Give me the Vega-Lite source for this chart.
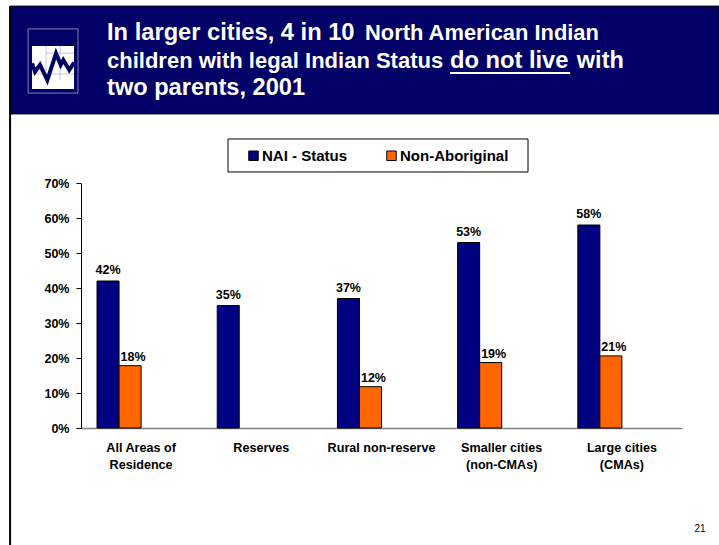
{
"$schema":"https://vega.github.io/schema/vega-lite/v6.json",
"width":601,"height":245,
"autosize":{"type":"none"},
"padding":{"left":81,"top":183,"right":37,"bottom":117},
"background":"white",
"config":{"view":{"stroke":null},"font":"Liberation Sans"},
"layer":[
{"data":{"values":[{"slide":"21"}]},
"layer":[
{"mark":{"type":"rect","fill":"#000066","stroke":"#000000","strokeWidth":1},
"encoding":{"x":{"datum":-0.118,"type":"quantitative","scale":{"domain":[0,1],"nice":false,"zero":false},"axis":null},"x2":{"datum":1.0616},"y":{"datum":1.722,"type":"quantitative","scale":{"domain":[0,1],"nice":false,"zero":false},"axis":null},"y2":{"datum":1.282}}},
{"mark":{"type":"rect","fill":"#ffffff","stroke":"#000000","strokeWidth":1},
"encoding":{"x":{"datum":0.2446,"type":"quantitative","scale":{"domain":[0,1],"nice":false,"zero":false},"axis":null},"x2":{"datum":0.7438},"y":{"datum":1.1796,"type":"quantitative","scale":{"domain":[0,1],"nice":false,"zero":false},"axis":null},"y2":{"datum":1.0449}}},
{"mark":{"type":"rule","stroke":"#000000","strokeWidth":2},
"encoding":{"x":{"datum":-0.118,"type":"quantitative","scale":{"domain":[0,1],"nice":false,"zero":false},"axis":null},"y":{"datum":1.722,"type":"quantitative","scale":{"domain":[0,1],"nice":false,"zero":false},"axis":null},"y2":{"datum":-0.478}}},
{"mark":{"type":"rect","fill":"#000066","stroke":"#8080b0","strokeWidth":1},
"encoding":{"x":{"datum":-0.088,"type":"quantitative","scale":{"domain":[0,1],"nice":false,"zero":false},"axis":null},"x2":{"datum":-0.005},"y":{"datum":1.629,"type":"quantitative","scale":{"domain":[0,1],"nice":false,"zero":false},"axis":null},"y2":{"datum":1.367}}},
{"mark":{"type":"rect","fill":"#ffffff"},
"encoding":{"x":{"datum":-0.0815,"type":"quantitative","scale":{"domain":[0,1],"nice":false,"zero":false},"axis":null},"x2":{"datum":-0.0116},"y":{"datum":1.559,"type":"quantitative","scale":{"domain":[0,1],"nice":false,"zero":false},"axis":null},"y2":{"datum":1.384}}},
{"mark":{"type":"rule","stroke":"#c4c4e0","strokeWidth":1},
"encoding":{"x":{"datum":-0.0582,"type":"quantitative","scale":{"domain":[0,1],"nice":false,"zero":false},"axis":null},"y":{"datum":1.559,"type":"quantitative","scale":{"domain":[0,1],"nice":false,"zero":false},"axis":null},"y2":{"datum":1.42}}},
{"mark":{"type":"rule","stroke":"#c4c4e0","strokeWidth":1},
"encoding":{"x":{"datum":-0.0349,"type":"quantitative","scale":{"domain":[0,1],"nice":false,"zero":false},"axis":null},"y":{"datum":1.559,"type":"quantitative","scale":{"domain":[0,1],"nice":false,"zero":false},"axis":null},"y2":{"datum":1.42}}},
{"mark":{"type":"rule","stroke":"#c4c4e0","strokeWidth":1},
"encoding":{"x":{"datum":-0.0582,"type":"quantitative","scale":{"domain":[0,1],"nice":false,"zero":false},"axis":null},"x2":{"datum":-0.0116},"y":{"datum":1.53,"type":"quantitative","scale":{"domain":[0,1],"nice":false,"zero":false},"axis":null}}},
{"mark":{"type":"rule","stroke":"#c4c4e0","strokeWidth":1},
"encoding":{"x":{"datum":-0.0815,"type":"quantitative","scale":{"domain":[0,1],"nice":false,"zero":false},"axis":null},"x2":{"datum":-0.0116},"y":{"datum":1.445,"type":"quantitative","scale":{"domain":[0,1],"nice":false,"zero":false},"axis":null}}},
{"data":{"values":[{"u":-0.0815,"v":1.488},{"u":-0.0765,"v":1.454},{"u":-0.0682,"v":1.482},{"u":-0.056,"v":1.42},{"u":-0.0416,"v":1.529},{"u":-0.0338,"v":1.482},{"u":-0.0294,"v":1.502},{"u":-0.0195,"v":1.461},{"u":-0.0116,"v":1.491}]},
"mark":{"type":"line","color":"#000066","strokeWidth":4},
"encoding":{"x":{"field":"u","type":"quantitative","scale":{"domain":[0,1],"nice":false,"zero":false},"axis":null},"y":{"field":"v","type":"quantitative","scale":{"domain":[0,1],"nice":false,"zero":false},"axis":null},"order":{"field":"u"}}},
{"data":{"values":[{"t":"In larger cities, 4 in 10"}]},"mark":{"type":"text","align":"left","baseline":"middle","font":"Liberation Sans","fontWeight":"bold","fontSize":23.7,"color":"#ffffff"},
"encoding":{"text":{"field":"t"},"x":{"datum":0.0433,"type":"quantitative","scale":{"domain":[0,1],"nice":false,"zero":false},"axis":null},"y":{"datum":1.613,"type":"quantitative","scale":{"domain":[0,1],"nice":false,"zero":false},"axis":null}}},
{"data":{"values":[{"t":"North American Indian"}]},"mark":{"type":"text","align":"left","baseline":"middle","font":"Liberation Sans","fontWeight":"bold","fontSize":21.9,"color":"#ffffff"},
"encoding":{"text":{"field":"t"},"x":{"datum":0.4725,"type":"quantitative","scale":{"domain":[0,1],"nice":false,"zero":false},"axis":null},"y":{"datum":1.613,"type":"quantitative","scale":{"domain":[0,1],"nice":false,"zero":false},"axis":null}}},
{"data":{"values":[{"t":"children with legal Indian Status"}]},"mark":{"type":"text","align":"left","baseline":"middle","font":"Liberation Sans","fontWeight":"bold","fontSize":22,"color":"#ffffff"},
"encoding":{"text":{"field":"t"},"x":{"datum":0.0433,"type":"quantitative","scale":{"domain":[0,1],"nice":false,"zero":false},"axis":null},"y":{"datum":1.498,"type":"quantitative","scale":{"domain":[0,1],"nice":false,"zero":false},"axis":null}}},
{"data":{"values":[{"t":"do not live"}]},"mark":{"type":"text","align":"left","baseline":"middle","font":"Liberation Sans","fontWeight":"bold","fontSize":23.7,"color":"#ffffff"},
"encoding":{"text":{"field":"t"},"x":{"datum":0.614,"type":"quantitative","scale":{"domain":[0,1],"nice":false,"zero":false},"axis":null},"y":{"datum":1.498,"type":"quantitative","scale":{"domain":[0,1],"nice":false,"zero":false},"axis":null}}},
{"mark":{"type":"rule","stroke":"#ffffff","strokeWidth":2},
"encoding":{"x":{"datum":0.614,"type":"quantitative","scale":{"domain":[0,1],"nice":false,"zero":false},"axis":null},"x2":{"datum":0.814},"y":{"datum":1.449,"type":"quantitative","scale":{"domain":[0,1],"nice":false,"zero":false},"axis":null}}},
{"data":{"values":[{"t":"with"}]},"mark":{"type":"text","align":"left","baseline":"middle","font":"Liberation Sans","fontWeight":"bold","fontSize":23.5,"color":"#ffffff"},
"encoding":{"text":{"field":"t"},"x":{"datum":0.825,"type":"quantitative","scale":{"domain":[0,1],"nice":false,"zero":false},"axis":null},"y":{"datum":1.498,"type":"quantitative","scale":{"domain":[0,1],"nice":false,"zero":false},"axis":null}}},
{"data":{"values":[{"t":"two parents, 2001"}]},"mark":{"type":"text","align":"left","baseline":"middle","font":"Liberation Sans","fontWeight":"bold","fontSize":23.6,"color":"#ffffff"},
"encoding":{"text":{"field":"t"},"x":{"datum":0.0433,"type":"quantitative","scale":{"domain":[0,1],"nice":false,"zero":false},"axis":null},"y":{"datum":1.388,"type":"quantitative","scale":{"domain":[0,1],"nice":false,"zero":false},"axis":null}}},
{"mark":{"type":"text","align":"center","baseline":"middle","font":"Liberation Sans","fontSize":10,"color":"#000000"},
"encoding":{"text":{"field":"slide"},"x":{"datum":1.03,"type":"quantitative","scale":{"domain":[0,1],"nice":false,"zero":false},"axis":null},"y":{"datum":-0.412,"type":"quantitative","scale":{"domain":[0,1],"nice":false,"zero":false},"axis":null}}}
]},
{"data":{"values":[
{"area":"All Areas of|Residence","series":"NAI - Status","share":0.42},
{"area":"All Areas of|Residence","series":"Non-Aboriginal","share":0.178},
{"area":"Reserves","series":"NAI - Status","share":0.35},
{"area":"Rural non-reserve","series":"NAI - Status","share":0.37},
{"area":"Rural non-reserve","series":"Non-Aboriginal","share":0.118},
{"area":"Smaller cities|(non-CMAs)","series":"NAI - Status","share":0.53},
{"area":"Smaller cities|(non-CMAs)","series":"Non-Aboriginal","share":0.187},
{"area":"Large cities|(CMAs)","series":"NAI - Status","share":0.58},
{"area":"Large cities|(CMAs)","series":"Non-Aboriginal","share":0.206}
]},
"encoding":{
"x":{"field":"area","type":"nominal","sort":null,"scale":{"paddingInner":0.2667,"paddingOuter":0.1333},
"axis":{"title":null,"labelAngle":0,"ticks":false,"domainColor":"#808080","domainWidth":1.5,"labelExpr":"split(datum.label,'|')","labelFont":"Liberation Sans","labelFontWeight":"bold","labelFontSize":12.6,"labelColor":"#000000","labelPadding":13,"labelLineHeight":17,"grid":false}},
"xOffset":{"field":"series","type":"nominal","scale":{"domain":["NAI - Status","Non-Aboriginal","spare a","spare b"],"paddingInner":0,"paddingOuter":0}},
"y":{"field":"share","type":"quantitative","scale":{"domain":[0,0.7],"nice":false},
"axis":{"title":null,"values":[0,0.1,0.2,0.3,0.4,0.5,0.6,0.7],"format":".0%","grid":false,"domainColor":"#000000","tickColor":"#000000","tickSize":5,"labelFont":"Liberation Sans","labelFontWeight":"bold","labelFontSize":12.5,"labelColor":"#000000","labelPadding":7}}
},
"layer":[
{"mark":{"type":"bar","stroke":"#000000","strokeWidth":1},
"encoding":{"color":{"field":"series","type":"nominal","scale":{"domain":["NAI - Status","Non-Aboriginal"],"range":["#000080","#FF6600"]},
"legend":{"title":null,"orient":"none","legendX":165,"legendY":-35,"direction":"horizontal","columns":2,"symbolType":"square","symbolSize":90,"symbolStrokeColor":"#000000","symbolStrokeWidth":1,"labelFont":"Liberation Sans","labelFontWeight":"bold","labelFontSize":15,"labelColor":"#000000","labelOffset":1,"columnPadding":36,"padding":0,"offset":0}}}},
{"transform":[{"filter":"datum.series === 'NAI - Status'"}],"mark":{"type":"text","dy":-11,"font":"Liberation Sans","fontWeight":"bold","fontSize":12.5,"color":"#000000"},
"encoding":{"text":{"field":"share","type":"quantitative","format":".0%"}}},
{"transform":[{"filter":"datum.series === 'Non-Aboriginal'"}],"mark":{"type":"text","dy":-9,"dx":3,"font":"Liberation Sans","fontWeight":"bold","fontSize":12.5,"color":"#000000"},
"encoding":{"text":{"field":"share","type":"quantitative","format":".0%"}}}
]}
],
"resolve":{"scale":{"x":"independent","y":"independent"}}
}
